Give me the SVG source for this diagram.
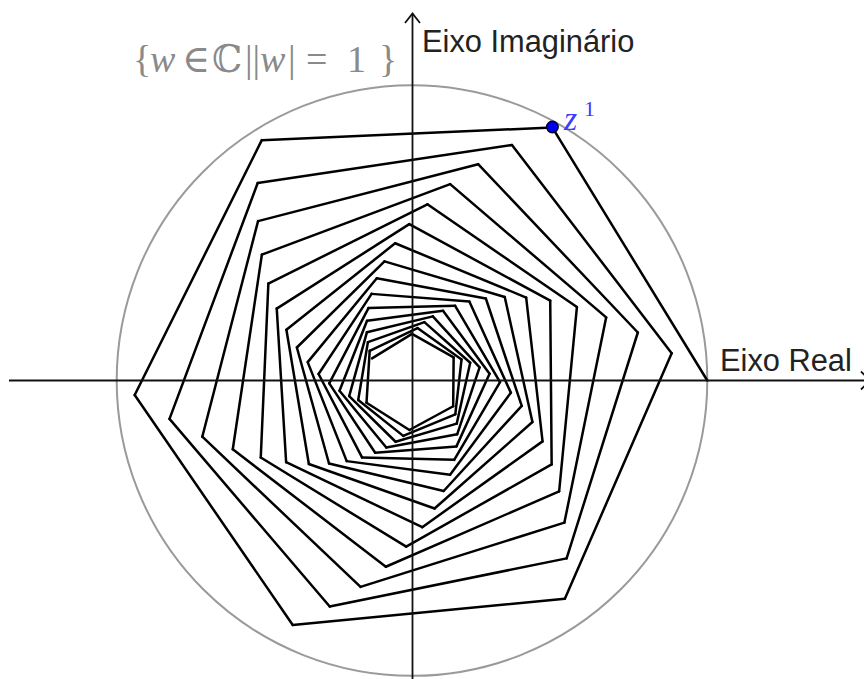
<svg xmlns="http://www.w3.org/2000/svg" width="864" height="679" viewBox="0 0 864 679">
<style>
.s { transform: rotate(61deg) scale(0.9797); }
.seg { stroke:#000; stroke-width:2.5px; stroke-linecap:round; vector-effect:non-scaling-stroke; fill:none; }
.axis { stroke:#111; stroke-width:1.8; fill:none; }
.lbl { font-family:"Liberation Sans", Arial, sans-serif; font-size:30.8px; fill:#222; }
.math { font-family:"Liberation Serif", "DejaVu Serif", serif; font-size:38px; fill:#8a8a8a; }
.it { font-style:italic; }
</style>
<defs>
<line id="seg" class="seg" x1="1" y1="0" x2="0.47497" y2="0.85686"/>
</defs>
<rect width="864" height="679" fill="#fff"/>
<circle cx="412" cy="380.5" r="295.3" fill="none" stroke="#9a9a9a" stroke-width="2"/>
<g id="spiral" transform="translate(412 380.5) scale(295.3 -295.3)">
<use href="#seg"/><g class="s"><use href="#seg"/><g class="s"><use href="#seg"/><g class="s"><use href="#seg"/><g class="s"><use href="#seg"/><g class="s"><use href="#seg"/><g class="s"><use href="#seg"/><g class="s"><use href="#seg"/><g class="s"><use href="#seg"/><g class="s"><use href="#seg"/><g class="s">
<use href="#seg"/><g class="s"><use href="#seg"/><g class="s"><use href="#seg"/><g class="s"><use href="#seg"/><g class="s"><use href="#seg"/><g class="s"><use href="#seg"/><g class="s"><use href="#seg"/><g class="s"><use href="#seg"/><g class="s"><use href="#seg"/><g class="s"><use href="#seg"/><g class="s">
<use href="#seg"/><g class="s"><use href="#seg"/><g class="s"><use href="#seg"/><g class="s"><use href="#seg"/><g class="s"><use href="#seg"/><g class="s"><use href="#seg"/><g class="s"><use href="#seg"/><g class="s"><use href="#seg"/><g class="s"><use href="#seg"/><g class="s"><use href="#seg"/><g class="s">
<use href="#seg"/><g class="s"><use href="#seg"/><g class="s"><use href="#seg"/><g class="s"><use href="#seg"/><g class="s"><use href="#seg"/><g class="s"><use href="#seg"/><g class="s"><use href="#seg"/><g class="s"><use href="#seg"/><g class="s"><use href="#seg"/><g class="s"><use href="#seg"/><g class="s">
<use href="#seg"/><g class="s"><use href="#seg"/><g class="s"><use href="#seg"/><g class="s"><use href="#seg"/><g class="s"><use href="#seg"/><g class="s"><use href="#seg"/><g class="s"><use href="#seg"/><g class="s"><use href="#seg"/><g class="s"><use href="#seg"/><g class="s"><use href="#seg"/><g class="s">
<use href="#seg"/><g class="s"><use href="#seg"/><g class="s"><use href="#seg"/><g class="s"><use href="#seg"/><g class="s"><use href="#seg"/><g class="s"><use href="#seg"/><g class="s"><use href="#seg"/><g class="s"><use href="#seg"/><g class="s"><use href="#seg"/><g class="s"><use href="#seg"/><g class="s">
<use href="#seg"/><g class="s"><use href="#seg"/><g class="s"><use href="#seg"/><g class="s"><use href="#seg"/><g class="s"><use href="#seg"/><g class="s"><use href="#seg"/><g class="s"><use href="#seg"/><g class="s"><use href="#seg"/><g class="s"><use href="#seg"/><g class="s"><use href="#seg"/><g class="s">
<use href="#seg"/><g class="s"><use href="#seg"/><g class="s"><use href="#seg"/><g class="s"><use href="#seg"/><g class="s"><use href="#seg"/><g class="s"><use href="#seg"/><g class="s"><use href="#seg"/><g class="s"><use href="#seg"/><g class="s"><use href="#seg"/><g class="s"><use href="#seg"/><g class="s">
<use href="#seg"/><g class="s"><use href="#seg"/><g class="s"><use href="#seg"/><g class="s"><use href="#seg"/><g class="s"><use href="#seg"/><g class="s"><use href="#seg"/><g class="s"><use href="#seg"/><g class="s"><use href="#seg"/><g class="s"><use href="#seg"/><g class="s"><use href="#seg"/><g class="s">
<use href="#seg"/>
</g></g></g></g></g></g></g></g></g></g>
</g></g></g></g></g></g></g></g></g></g>
</g></g></g></g></g></g></g></g></g></g>
</g></g></g></g></g></g></g></g></g></g>
</g></g></g></g></g></g></g></g></g></g>
</g></g></g></g></g></g></g></g></g></g>
</g></g></g></g></g></g></g></g></g></g>
</g></g></g></g></g></g></g></g></g></g>
</g></g></g></g></g></g></g></g></g></g>
</g>
<g id="axes">
<line class="axis" x1="9" y1="380.5" x2="864" y2="380.5"/>
<polyline class="axis" points="861,371.5 870,380.5 861,389.5"/>
<line class="axis" x1="412.5" y1="679" x2="412.5" y2="13.5"/>
<polyline class="axis" points="405,23 412.5,13.5 420,23"/>
</g>
<text class="lbl" x="422" y="52">Eixo Imaginário</text>
<text class="lbl" x="720" y="371">Eixo Real</text>
<text class="math" y="72"><tspan x="133">{</tspan><tspan class="it" x="150">w</tspan><tspan x="182">∈</tspan><tspan x="212">ℂ</tspan><tspan x="245">||</tspan><tspan class="it" x="260">w</tspan><tspan x="288">|</tspan><tspan x="306">=</tspan><tspan x="347">1</tspan><tspan x="379">}</tspan></text>
<g id="z1">
<circle cx="552.4" cy="127" r="5.8" fill="#0000ee" stroke="#000022" stroke-width="1.4"/>
<text x="564" y="130" font-family="Liberation Serif, DejaVu Serif, serif" font-style="italic" font-size="34" fill="#3c3cff">z</text>
<text x="584" y="116" font-family="Liberation Serif, DejaVu Serif, serif" font-size="22" fill="#3c3cff">1</text>
</g>
</svg>
